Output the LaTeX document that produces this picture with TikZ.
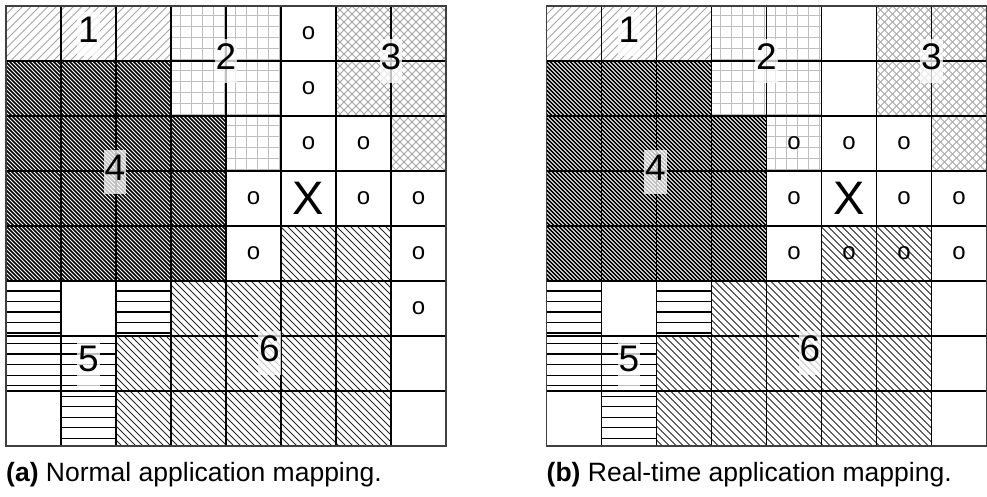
\documentclass[tikz,border=0pt]{standalone}
\usepackage{fontspec}
\setmainfont{Liberation Sans}

% hatching of the six regions, shared by both mappings
\newcommand{\regionfills}{%
    % region 1
    \begin{scope}
        \clip (0,0) rectangle (165,55);
        \foreach \k in {0,8.5,...,230} \draw[lone] (\k,0) -- ++(-440,440);
    \end{scope}
    % region 2
    \begin{scope}
        \clip (165,0) rectangle (275,110) (220,110) rectangle (275,165);
        \foreach \k in {174,185,...,275} \draw[ltwo] (\k,0) -- (\k,165);
        \foreach \k in {9,20,...,165} \draw[ltwo] (165,\k) -- (275,\k);
    \end{scope}
    % region 3
    \begin{scope}
        \clip (330,0) rectangle (440,110) (385,110) rectangle (440,165);
        \foreach \k in {330,338,...,610} \draw[lthree] (\k,0) -- ++(-440,440);
        \foreach \k in {162,170,...,440} \draw[lthree] (\k,0) -- ++(440,440);
    \end{scope}
    % region 4
    \begin{scope}
        \clip (0,55) rectangle (165,110) (0,110) rectangle (220,275);
        \foreach \k in {-276,-272,...,220} \draw[lfour] (\k,0) -- ++(440,440);
    \end{scope}
    % region 5
    \begin{scope}
        \clip (0,275) rectangle (55,330) (110,275) rectangle (165,330)
              (0,330) rectangle (110,385) (55,385) rectangle (110,440);
        \foreach \k in {274.48,285,...,440} \draw[lfive] (0,\k) -- (165,\k);
    \end{scope}
    % region 6
    \begin{scope}
        \clip (275,220) rectangle (385,275) (165,275) rectangle (385,330)
              (110,330) rectangle (385,440);
        \foreach \k in {-331,-324,...,170} \draw[lsix] (\k,0) -- ++(440,440);
    \end{scope}
    % cell borders
    \foreach \i in {1,...,7}{
        \draw[gridline] (\i*55,0) -- (\i*55,440);
        \draw[gridline] (0,\i*55) -- (440,\i*55);
    }
    \draw[border] (0,0) rectangle (440,440);
}

\begin{document}
\begin{tikzpicture}[
        x=1pt, y=-1pt,
        lone/.style={line width=0.8pt, black!35},
        ltwo/.style={line width=1pt, black!25},
        lthree/.style={line width=0.8pt, black!35},
        lfour/.style={line width=1.45pt, black},
        lfive/.style={line width=1.3pt, black},
        lsix/.style={line width=0.75pt, black!85},
        gridline/.style={line width=1.2pt, black},
        border/.style={line width=1.5pt, black!75},
        tag/.style={fill=white, fill opacity=0.75, text opacity=1, inner sep=1pt,
            font=\fontsize{37}{42}\selectfont},
        occ/.style={font=\fontsize{24}{28}\selectfont, inner sep=0pt},
        probe/.style={font=\fontsize{47}{52}\selectfont, inner sep=0pt},
        caption/.style={anchor=base west, inner sep=0pt, font=\fontsize{26.5}{30}\selectfont},
    ]
    \useasboundingbox (0,0) rectangle (987,496);

    % (a) normal mapping
    \begin{scope}[shift={(6,6)}]
        \regionfills
        \foreach \r/\c in {0/5,1/5,2/5,2/6,3/4,3/6,3/7,4/4,4/7,5/7}
            \node[occ] (a-o-\r-\c) at (\c*55+27.5,\r*55+27.5) {o};
        \node[probe] (a-x) at (5*55+27.5,3*55+27.5) {X};
        \node[tag] (a-1) at (82.5,28) {1\strut};
        \node[tag] (a-2) at (220,55) {2\strut};
        \node[tag] (a-3) at (385,55) {3\strut};
        \node[tag] (a-4) at (109,166) {4\strut};
        \node[tag] (a-5) at (82.5,357.5) {5\strut};
        \node[tag, anchor=east] (a-6) at (275,347) {6\strut};
    \end{scope}

    % (b) real-time mapping
    \begin{scope}[shift={(546.5,6)}]
        \regionfills
        \foreach \r/\c in {2/4,2/5,2/6,3/4,3/6,3/7,4/4,4/5,4/6,4/7}
            \node[occ] (b-o-\r-\c) at (\c*55+27.5,\r*55+27.5) {o};
        \node[probe] (b-x) at (5*55+27.5,3*55+27.5) {X};
        \node[tag] (b-1) at (82.5,28) {1\strut};
        \node[tag] (b-2) at (220,55) {2\strut};
        \node[tag] (b-3) at (385,55) {3\strut};
        \node[tag] (b-4) at (109,166) {4\strut};
        \node[tag] (b-5) at (82.5,357.5) {5\strut};
        \node[tag, anchor=east] (b-6) at (275,347) {6\strut};
    \end{scope}

    \node[caption] (cap-a) at (6,481) {\textbf{(a)} Normal application mapping.};
    \node[caption] (cap-b) at (546.5,481) {\textbf{(b)} Real-time application mapping.};
\end{tikzpicture}
\end{document}
